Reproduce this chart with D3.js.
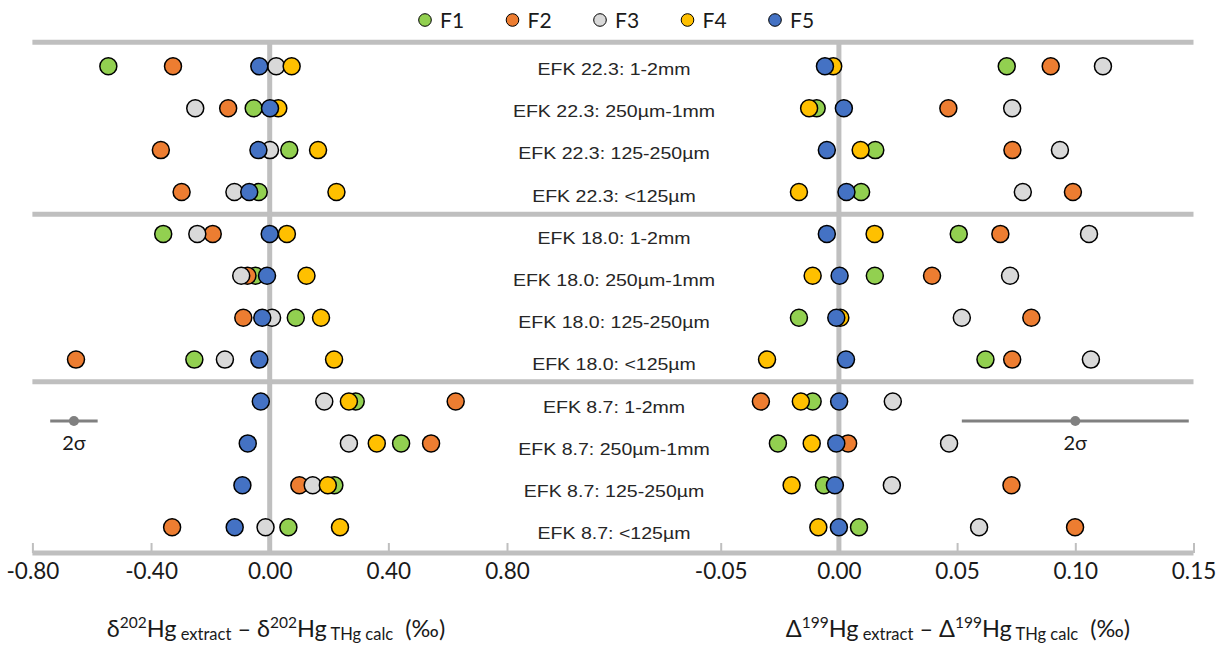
<!DOCTYPE html>
<html>
<head>
<meta charset="utf-8">
<script src="https://cdn.jsdelivr.net/npm/d3@7"></script>
<style>
  html, body { margin: 0; padding: 0; background: #fff; }
  svg { display: block; }
</style>
</head>
<body>
<div id="chart"></div>
<script>
// ---------- DATA ----------
const categories = [
  "EFK 22.3: 1-2mm", "EFK 22.3: 250µm-1mm", "EFK 22.3: 125-250µm", "EFK 22.3: <125µm",
  "EFK 18.0: 1-2mm", "EFK 18.0: 250µm-1mm", "EFK 18.0: 125-250µm", "EFK 18.0: <125µm",
  "EFK 8.7: 1-2mm", "EFK 8.7: 250µm-1mm", "EFK 8.7: 125-250µm", "EFK 8.7: <125µm"
];
const seriesNames = ["F1", "F2", "F3", "F4", "F5"];
const seriesColors = ["#92D050", "#ED7D31", "#D9D9D9", "#FFC000", "#4472C4"];

// δ202Hg extract − δ202Hg THg calc (‰)
const d202_F1 = [-0.544, -0.054, 0.066, -0.037, -0.359, -0.048, 0.088, -0.254, 0.290, 0.443, 0.218, 0.063];
const d202_F2 = [-0.326, -0.140, -0.367, -0.297, -0.192, -0.075, -0.089, -0.653, 0.627, 0.544, 0.100, -0.329];
const d202_F3 = [0.022, -0.251, 0.001, -0.119, -0.244, -0.096, 0.008, -0.151, 0.184, 0.267, 0.145, -0.014];
const d202_F4 = [0.074, 0.029, 0.163, 0.225, 0.058, 0.124, 0.173, 0.217, 0.267, 0.361, 0.196, 0.237];
const d202_F5 = [-0.035, 0.001, -0.038, -0.069, 0.000, -0.009, -0.025, -0.035, -0.030, -0.074, -0.092, -0.118];

// Δ199Hg extract − Δ199Hg THg calc (‰)
const D199_F1 = [0.0710, -0.0094, 0.0154, 0.0094, 0.0507, 0.0152, -0.0169, 0.0620, -0.0111, -0.0258, -0.0063, 0.0085];
const D199_F2 = [0.0896, 0.0463, 0.0734, 0.0990, 0.0683, 0.0394, 0.0814, 0.0733, -0.0330, 0.0039, 0.0730, 0.0999];
const D199_F3 = [0.1117, 0.0733, 0.0935, 0.0778, 0.1058, 0.0724, 0.0520, 0.1066, 0.0228, 0.0466, 0.0224, 0.0593];
const D199_F4 = [-0.0024, -0.0126, 0.0092, -0.0169, 0.0151, -0.0111, 0.0006, -0.0304, -0.0161, -0.0115, -0.0200, -0.0087];
const D199_F5 = [-0.0059, 0.0021, -0.0051, 0.0032, -0.0051, 0.0003, -0.0011, 0.0030, 0.0001, -0.0011, -0.0017, 0.0000];

const leftTicks = [-0.8, -0.4, 0, 0.4, 0.8];
const rightTicks = [-0.05, 0, 0.05, 0.10, 0.15];

// 2σ reference bars: [centre, half-width]
const sigmaLeft = [-0.66, 0.08];
const sigmaRight = [0.10, 0.048];

// ---------- LAYOUT ----------
const W = 1229, H = 647;
const svg = d3.select("#chart").append("svg").attr("width", W).attr("height", H);

const xL = d3.scaleLinear().domain([-0.8, 0.8]).range([32.4, 507]);
const xR = d3.scaleLinear().domain([-0.05, 0.15]).range([720.7, 1193.5]);
const y = d3.scaleBand().domain(categories).range([45.35, 548.15]);
const yc = c => y(c) + y.bandwidth() / 2;
const yLab = d3.scalePoint().domain(categories).range([75, 539.3]);

const axisY = 553;
const gridColor = "#BFBFBF";
const x0 = xL.range()[0], x1 = xR.range()[1];

// horizontal group lines
const hLines = [y(categories[0]) - 3.1, y(categories[4]) + 1.3, y(categories[8]) + 1.3];
svg.selectAll("line.hgrid").data(hLines).enter().append("line")
  .attr("x1", x0).attr("x2", x1).attr("y1", d => d).attr("y2", d => d)
  .attr("stroke", gridColor).attr("stroke-width", 5);

// zero lines
[xL(0), xR(0)].forEach(xz => {
  svg.append("line").attr("x1", xz).attr("x2", xz).attr("y1", hLines[0]).attr("y2", axisY)
    .attr("stroke", gridColor).attr("stroke-width", 5);
});

// axes
function drawAxis(scale, ticks) {
  const g = svg.append("g").attr("transform", `translate(0,${axisY})`)
    .call(d3.axisBottom(scale).tickValues(ticks).tickSize(-10).tickFormat(d => d.toFixed(2)));
  g.select(".domain").remove();
  g.selectAll(".tick line").attr("stroke", gridColor).attr("stroke-width", 2);
  g.selectAll(".tick text")
    .attr("y", 26).attr("dy", null)
    .attr("font-family", "Lato, 'Open Sans', sans-serif")
    .attr("font-size", 22.5).attr("fill", "#1a1a1a");
}
svg.append("line").attr("x1", x0).attr("x2", x1).attr("y1", axisY).attr("y2", axisY)
  .attr("stroke", gridColor).attr("stroke-width", 5);
drawAxis(xL, leftTicks);
drawAxis(xR, rightTicks);

// category labels
svg.selectAll("text.cat").data(categories).enter().append("text")
  .attr("class", "cat")
  .attr("transform", d => `translate(614,${yLab(d)}) scale(1.15,1)`)
  .attr("text-anchor", "middle")
  .attr("font-family", "'Liberation Sans', Arial, sans-serif")
  .attr("font-size", 17).attr("fill", "#262626")
  .text(d => d);

// 2σ bars
const sigmaY = 421;
[[xL, sigmaLeft], [xR, sigmaRight]].forEach(([sc, s]) => {
  svg.append("line").attr("x1", sc(s[0] - s[1])).attr("x2", sc(s[0] + s[1]))
    .attr("y1", sigmaY).attr("y2", sigmaY).attr("stroke", "#808080").attr("stroke-width", 3);
  svg.append("circle").attr("cx", sc(s[0])).attr("cy", sigmaY).attr("r", 5).attr("fill", "#808080");
  svg.append("text").attr("x", sc(s[0])).attr("y", 450)
    .attr("text-anchor", "middle").attr("font-family", "Lato, sans-serif")
    .attr("font-size", 20).attr("fill", "#1a1a1a").text("2σ");
});

// markers
const leftSeries = [d202_F1, d202_F2, d202_F3, d202_F4, d202_F5];
const rightSeries = [D199_F1, D199_F2, D199_F3, D199_F4, D199_F5];
seriesNames.forEach((name, si) => {
  const g = svg.append("g").attr("class", "series-" + name);
  const ptsL = categories.map((c, i) => ({ c, v: leftSeries[si][i] }));
  const ptsR = categories.map((c, i) => ({ c, v: rightSeries[si][i] }));
  g.selectAll("circle.l").data(ptsL).enter().append("circle")
    .attr("cx", d => xL(d.v)).attr("cy", d => yc(d.c)).attr("r", 8.5)
    .attr("fill", seriesColors[si]).attr("stroke", "#000").attr("stroke-width", 1.5);
  g.selectAll("circle.r").data(ptsR).enter().append("circle")
    .attr("cx", d => xR(d.v)).attr("cy", d => yc(d.c)).attr("r", 8.5)
    .attr("fill", seriesColors[si]).attr("stroke", "#000").attr("stroke-width", 1.5);
});

// legend
const legend = svg.append("g");
seriesNames.forEach((name, i) => {
  const lx = 425 + i * 87.5;
  legend.append("circle").attr("cx", lx).attr("cy", 20).attr("r", 6.3)
    .attr("fill", seriesColors[i]).attr("stroke", "#000").attr("stroke-width", 1);
  legend.append("text").attr("x", lx + 15).attr("y", 27.5)
    .attr("font-family", "Lato, sans-serif").attr("font-size", 21).attr("fill", "#1a1a1a").text(name);
});

// axis titles
function title(cx, sym, iso) {
  const t = svg.append("text").attr("x", cx).attr("y", 637).attr("text-anchor", "middle")
    .attr("font-family", "Lato, sans-serif").attr("font-size", 23.5).attr("fill", "#1a1a1a")
    .style("white-space", "pre");
  t.append("tspan").text(sym);
  t.append("tspan").attr("font-size", 15.5).attr("dy", -9).text(iso);
  t.append("tspan").attr("dy", 9).text("Hg");
  t.append("tspan").attr("font-size", 16.5).attr("dy", 3).text("\u00A0extract");
  t.append("tspan").attr("dy", -3).text("\u00A0– " + sym);
  t.append("tspan").attr("font-size", 15.5).attr("dy", -9).text(iso);
  t.append("tspan").attr("dy", 9).text("Hg");
  t.append("tspan").attr("font-size", 16.5).attr("dy", 3).text("\u00A0THg calc");
  t.append("tspan").attr("dy", -3).text("\u00A0\u00A0(‰)");
}
title(276, "δ", "202");
title(958, "Δ", "199");
</script>
</body>
</html>
